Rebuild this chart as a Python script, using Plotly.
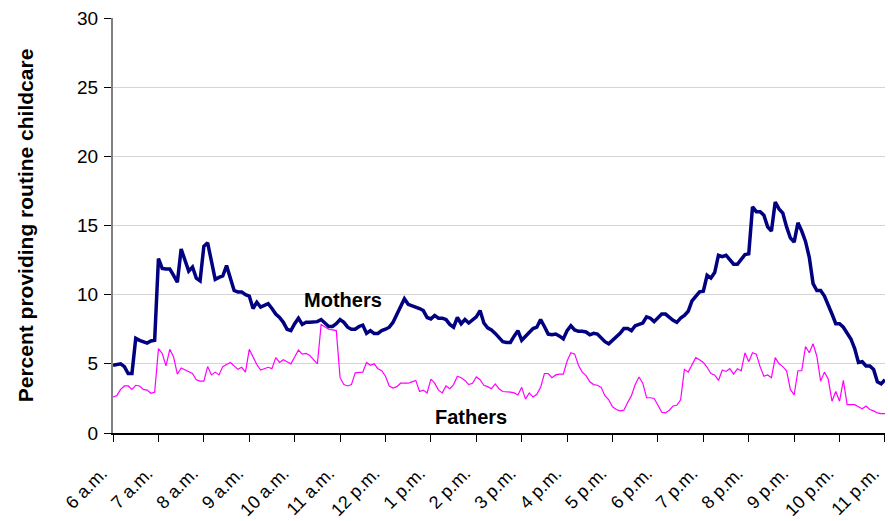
import plotly.graph_objects as go

# 5-minute slots from 6 a.m. to 11 p.m. (205 points)
mothers = [
    4.9, 4.95, 5.0, 4.8, 4.3, 4.3, 6.85, 6.7, 6.6, 6.5, 6.65, 6.7,
    12.6, 11.9, 11.85, 11.85, 11.4, 10.9, 13.3, 12.4, 11.7, 12.0, 11.2, 11.0,
    13.5, 13.75, 12.5, 11.1, 11.25, 11.35, 12.1, 11.2, 10.3, 10.2, 10.2, 10.0,
    9.9, 9.0, 9.45, 9.1, 9.2, 9.35, 9.0, 8.6, 8.35, 8.0, 7.5, 7.4,
    7.9, 8.3, 7.85, 8.0, 8.0, 8.0, 8.05, 8.2, 7.95, 7.7, 7.7, 7.9,
    8.2, 8.0, 7.65, 7.5, 7.5, 7.7, 7.8, 7.2, 7.4, 7.2, 7.2, 7.4,
    7.5, 7.65, 8.0, 8.6, 9.2, 9.7, 9.3, 9.2, 9.15, 9.0, 8.85, 8.35,
    8.25, 8.5, 8.3, 8.3, 8.2, 7.85, 7.65, 8.35, 7.9, 8.2, 7.95, 8.2,
    8.4, 8.85, 7.95, 7.6, 7.45, 7.2, 6.9, 6.6, 6.55, 6.55, 7.0, 7.4,
    6.7, 7.0, 7.3, 7.55, 7.65, 8.2, 7.7, 7.15, 7.1, 7.15, 7.0, 6.8,
    7.4, 7.75, 7.45, 7.35, 7.35, 7.3, 7.1, 7.2, 7.15, 6.9, 6.6, 6.45,
    6.7, 6.9, 7.2, 7.55, 7.55, 7.4, 7.75, 7.85, 7.95, 8.4, 8.3, 8.05,
    8.3, 8.6, 8.6, 8.35, 8.15, 8.0, 8.3, 8.5, 8.8, 9.55, 9.9, 10.2,
    10.25, 11.4, 11.2, 11.6, 12.85, 12.75, 12.85, 12.5, 12.2, 12.2, 12.6, 12.9,
    12.95, 16.35, 16.0, 16.0, 15.75, 14.9, 14.6, 16.7, 16.2, 15.9, 14.9, 14.1,
    13.8, 15.2, 14.6, 13.85, 12.7, 10.8, 10.3, 10.3, 9.9, 9.3, 8.6, 7.9,
    7.9, 7.65, 7.2, 6.8, 6.1, 5.1, 5.15, 4.85, 4.85, 4.6, 3.7, 3.55,
    3.85,
]

fathers = [
    2.6, 2.7, 3.15, 3.4, 3.4, 3.15, 3.45, 3.4, 3.15, 3.1, 2.87, 2.95,
    6.1, 5.75, 4.85, 6.05, 5.5, 4.25, 4.7, 4.55, 4.45, 4.3, 3.85, 3.75,
    3.75, 4.8, 4.2, 4.4, 4.2, 4.8, 4.95, 5.1, 4.85, 4.6, 4.75, 4.4,
    6.05, 5.45, 4.95, 4.55, 4.65, 4.75, 4.65, 5.45, 5.1, 5.3, 5.15, 5.0,
    5.5, 6.0, 5.7, 5.75, 5.6, 5.3, 5.0, 7.85, 7.7, 7.5, 7.45, 7.4,
    4.0, 3.5, 3.4, 3.5, 4.35, 4.35, 4.4, 5.1, 4.9, 5.0, 4.65, 4.5,
    4.1, 3.4, 3.25, 3.35, 3.6, 3.6, 3.6, 3.7, 3.8, 3.0, 3.1, 2.9,
    3.9, 3.6, 3.1, 2.9, 3.4, 3.2, 3.5, 4.1, 4.0, 3.8, 3.5, 3.6,
    4.05, 3.85, 3.45, 3.35, 3.2, 3.55, 3.2, 3.0, 3.0, 2.95, 2.9, 2.75,
    3.3, 2.45, 2.9, 2.6, 2.8, 3.3, 4.3, 4.3, 4.0, 4.2, 4.25, 4.25,
    5.2, 5.8, 5.7, 4.9, 4.4, 4.15, 3.7, 3.5, 3.45, 3.3, 2.7, 2.4,
    1.9, 1.7, 1.6, 1.65, 2.2, 2.7, 3.5, 4.05, 3.6, 2.55, 2.55, 2.5,
    2.0, 1.5, 1.45, 1.65, 1.95, 2.0, 2.4, 4.6, 4.4, 4.9, 5.45, 5.3,
    5.1, 4.75, 4.3, 4.2, 3.8, 4.55, 4.45, 4.65, 4.25, 4.65, 4.5, 5.8,
    5.15, 5.8, 5.7, 4.8, 4.1, 4.2, 4.0, 5.45, 5.0, 4.8, 4.5, 3.15,
    2.75, 4.5, 4.5, 6.25, 5.8, 6.45, 5.55, 3.75, 4.4, 3.9, 2.3, 3.0,
    2.3, 3.8, 2.05, 2.05, 2.05, 1.9, 1.75, 1.95, 1.7, 1.6, 1.45, 1.4,
    1.4,
]

hour_labels = [
    "6 a.m.", "7 a.m.", "8 a.m.", "9 a.m.", "10 a.m.", "11 a.m.",
    "12 p.m.", "1 p.m.", "2 p.m.", "3 p.m.", "4 p.m.", "5 p.m.",
    "6 p.m.", "7 p.m.", "8 p.m.", "9 p.m.", "10 p.m.", "11 p.m.",
]

slots_per_hour = 12
slot_index = list(range(len(mothers)))
hour_ticks = [h * slots_per_hour for h in range(len(hour_labels))]

FONT = "Liberation Sans, Arial, sans-serif"

fig = go.Figure()
fig.add_trace(go.Scatter(
    x=slot_index, y=fathers, mode="lines", name="Fathers",
    line=dict(color="#FF00FF", width=1.2), showlegend=False,
))
fig.add_trace(go.Scatter(
    x=slot_index, y=mothers, mode="lines", name="Mothers",
    line=dict(color="#000080", width=3.5), showlegend=False,
))

fig.update_layout(
    width=888, height=521,
    margin=dict(l=113, r=3, t=18, b=88),
    paper_bgcolor="white", plot_bgcolor="white",
    font=dict(family=FONT, color="black"),
    xaxis=dict(
        range=[-0.01, hour_ticks[-1] + 0.01], automargin=False,
        tickmode="array", tickvals=hour_ticks, ticktext=hour_labels,
        tickangle=-45, tickfont=dict(size=18, family=FONT),
        ticks="outside", ticklen=7, tickcolor="black", tickwidth=1,
        showline=True, linecolor="black", linewidth=1.5,
        showgrid=False, zeroline=False,
        ticklabelstandoff=14, ticklabelshift=-11,
    ),
    yaxis=dict(
        range=[0, 30], automargin=False,
        tickmode="array", tickvals=[0, 5, 10, 15, 20, 25, 30],
        tickfont=dict(size=19, family=FONT),
        ticks="outside", ticklen=7, tickcolor="black", tickwidth=1,
        showline=True, linecolor="#808080", linewidth=2,
        showgrid=True, gridcolor="#d4d4d4", gridwidth=1,
        zeroline=False, ticklabelstandoff=2,
    ),
    annotations=[
        dict(text="<b>Percent providing routine childcare</b>", textangle=-90,
             xref="paper", yref="paper", x=-0.113, y=0.5,
             xanchor="center", yanchor="middle", showarrow=False,
             font=dict(size=21, family=FONT, color="black")),
        dict(text="<b>Mothers</b>", xref="x", yref="y", x=60.8, y=9.6,
             showarrow=False, xanchor="center", yanchor="middle",
             font=dict(size=20, family=FONT, color="black")),
        dict(text="<b>Fathers</b>", xref="x", yref="y", x=94.5, y=1.16,
             showarrow=False, xanchor="center", yanchor="middle",
             font=dict(size=20, family=FONT, color="black")),
    ],
)

fig.write_html(
    "out.html",
    config={"displayModeBar": False},
    post_script="document.body.style.margin='0px';document.body.style.overflow='hidden';",
)
